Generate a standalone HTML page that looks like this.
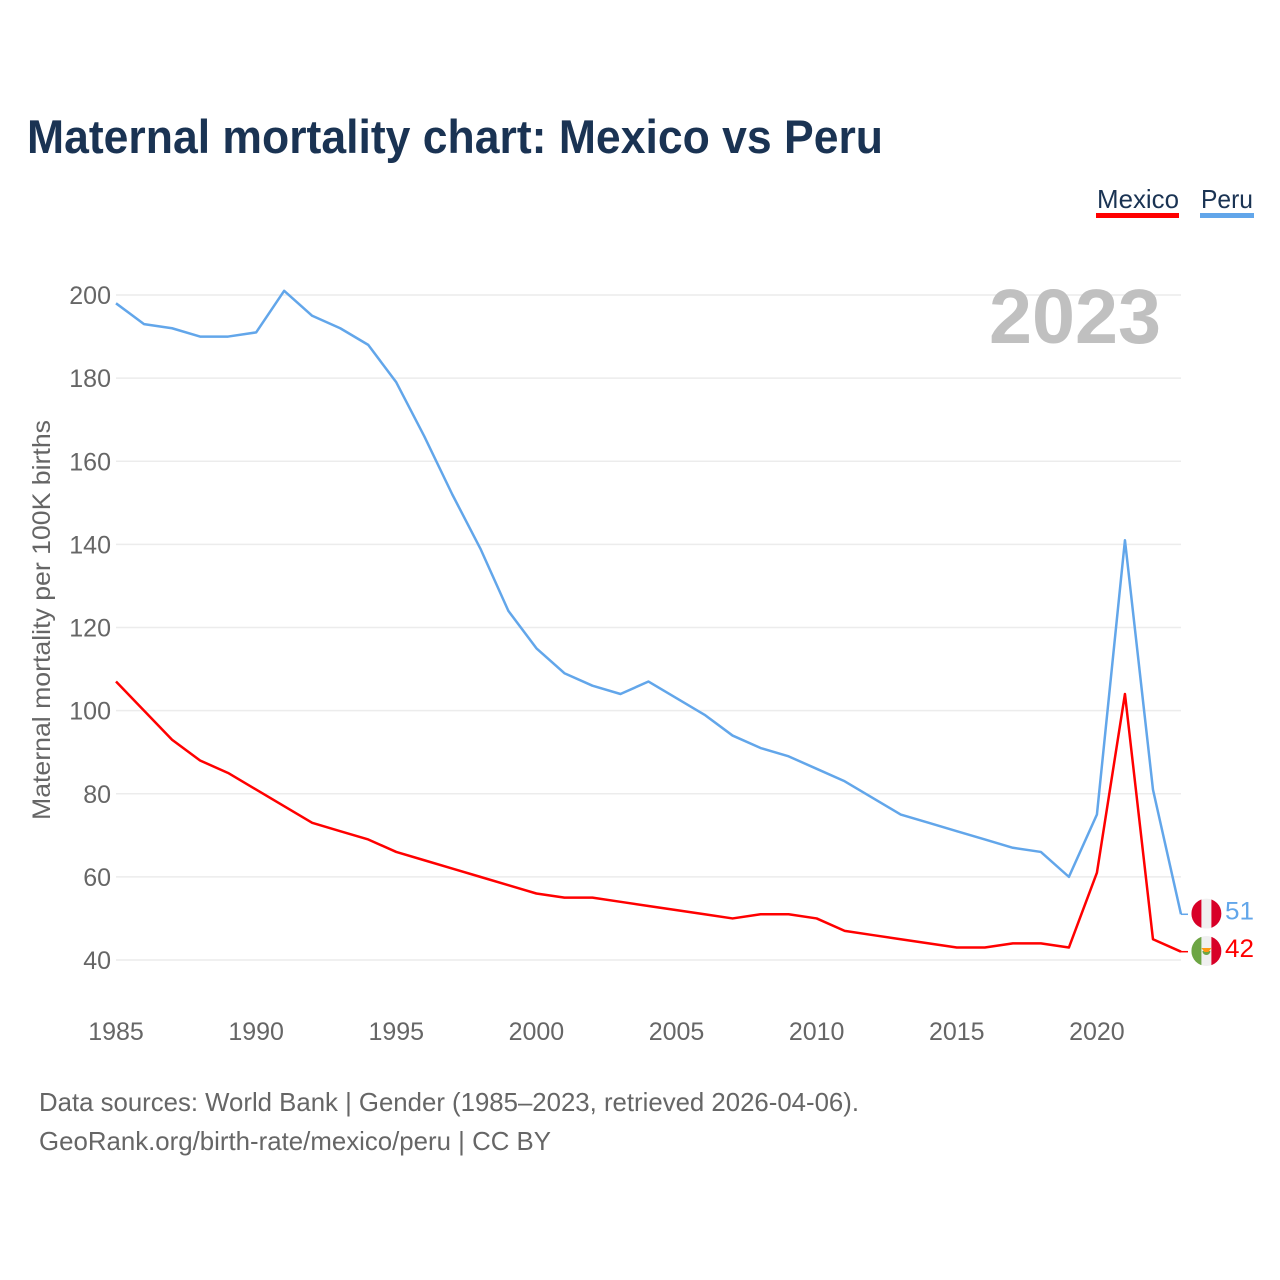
<!DOCTYPE html>
<html lang="en">
<head>
<meta charset="utf-8">
<title>Maternal mortality chart: Mexico vs Peru</title>
<style>
html,body{margin:0;padding:0;background:#fff;}
svg{display:block;font-family:"Liberation Sans",sans-serif;}
</style>
</head>
<body>
<svg id="chart" width="1280" height="1280" viewBox="0 0 1280 1280" xmlns="http://www.w3.org/2000/svg">
  <rect width="1280" height="1280" fill="#fff"/>
  <defs>
    <clipPath id="peru-clip"><circle cx="0" cy="0" r="15"/></clipPath>
    <clipPath id="mexico-clip"><circle cx="0" cy="0" r="15"/></clipPath>
  </defs>
  <text x="27" y="153" font-size="47" font-weight="700" fill="#1a3353" textLength="856" lengthAdjust="spacingAndGlyphs">Maternal mortality chart: Mexico vs Peru</text>

  <g id="grid"></g>
  <text x="989" y="343" font-size="77" font-weight="700" fill="#c0c0c0" textLength="172" lengthAdjust="spacingAndGlyphs">2023</text>
  <g id="yticks"></g>
  <g id="xticks"></g>
  <text transform="translate(50 620) rotate(-90)" text-anchor="middle" font-size="25" fill="#666" textLength="400" lengthAdjust="spacingAndGlyphs">Maternal mortality per 100K births</text>
  <g id="series"></g>

  <g id="flag-peru">
    <g clip-path="url(#peru-clip)">
      <rect x="-15" y="-15" width="30" height="30" fill="#f0f0f0"/>
      <rect x="-15" y="-15" width="10" height="30" fill="#d80027"/>
      <rect x="5" y="-15" width="10" height="30" fill="#d80027"/>
    </g>
  </g>
  <g id="flag-mexico">
    <g clip-path="url(#mexico-clip)">
      <rect x="-15" y="-15" width="30" height="30" fill="#f0f0f0"/>
      <rect x="-15" y="-15" width="10" height="30" fill="#6da544"/>
      <rect x="5" y="-15" width="10" height="30" fill="#d80027"/>
      <path d="M-4 -1 A4 4 0 0 0 4 -1 Z" transform="translate(0 1)" fill="#6da544"/>
      <path d="M-5 -3 L5 -3 L2 1 L-2 1 Z" fill="#ff9811"/>
    </g>
  </g>
  <text id="label-peru" x="1225" font-size="25" fill="#62a6ea" textLength="29" lengthAdjust="spacingAndGlyphs"></text>
  <text id="label-mexico" x="1225" font-size="25" fill="#ff0000" textLength="29" lengthAdjust="spacingAndGlyphs"></text>

  <g>
    <g>
      <text x="1097" y="208" font-size="26" fill="#1a3353" textLength="82" lengthAdjust="spacingAndGlyphs">Mexico</text>
      <rect x="1096" y="213" width="83" height="5" fill="#ff0000"/>
    </g>
    <g>
      <text x="1201" y="208" font-size="26" fill="#1a3353" textLength="52" lengthAdjust="spacingAndGlyphs">Peru</text>
      <rect x="1200" y="213" width="54" height="5" fill="#62a6ea"/>
    </g>
  </g>

  <text x="39" y="1111" font-size="26" fill="#666" textLength="820" lengthAdjust="spacingAndGlyphs">Data sources: World Bank | Gender (1985–2023, retrieved 2026-04-06).</text>
  <a>
    <text x="39" y="1150" font-size="26" fill="#666" textLength="512" lengthAdjust="spacingAndGlyphs">GeoRank.org/birth-rate/mexico/peru | CC BY</text>
  </a>
</svg>
<script>
const years = [1985,1986,1987,1988,1989,1990,1991,1992,1993,1994,1995,1996,1997,1998,1999,2000,2001,2002,2003,2004,2005,2006,2007,2008,2009,2010,2011,2012,2013,2014,2015,2016,2017,2018,2019,2020,2021,2022,2023];
const peruValues = [198,193,192,190,190,191,201,195,192,188,179,166,152,139,124,115,109,106,104,107,103,99,94,91,89,86,83,79,75,73,71,69,67,66,60,75,141,81,51];
const mexicoValues = [107,100,93,88,85,81,77,73,71,69,66,64,62,60,58,56,55,55,54,53,52,51,50,51,51,50,47,46,45,44,43,43,44,44,43,61,104,45,42];
const yTickValues = [40,60,80,100,120,140,160,180,200];
const xTickValues = [1985,1990,1995,2000,2005,2010,2015,2020];

const NS = 'http://www.w3.org/2000/svg';
const xLeft = 116, xRight = 1181, yBottom = 960, yTop = 295;
function xScale(year){ return xLeft + (year - 1985) * (xRight - xLeft) / (2023 - 1985); }
function yScale(value){ return yBottom - (value - 40) * (yBottom - yTop) / (200 - 40); }

const grid = document.getElementById('grid');
const yticks = document.getElementById('yticks');
const xticks = document.getElementById('xticks');
const seriesGroup = document.getElementById('series');

yTickValues.forEach(function(v){
  const line = document.createElementNS(NS, 'line');
  
  
  line.setAttribute('x1', xLeft);
  line.setAttribute('x2', xRight);
  line.setAttribute('y1', yScale(v));
  line.setAttribute('y2', yScale(v));
  line.setAttribute('stroke', '#ececec');
  line.setAttribute('stroke-width', '1.5');
  grid.appendChild(line);
  const t = document.createElementNS(NS, 'text');
  
  
  t.setAttribute('x', 111);
  t.setAttribute('y', yScale(v) + 9);
  t.setAttribute('text-anchor', 'end');
  t.setAttribute('font-size', '25');
  t.setAttribute('fill', '#666');
  t.textContent = String(v);
  yticks.appendChild(t);
});

xTickValues.forEach(function(v){
  const t = document.createElementNS(NS, 'text');
  
  
  t.setAttribute('x', xScale(v));
  t.setAttribute('y', 1040);
  t.setAttribute('text-anchor', 'middle');
  t.setAttribute('font-size', '25');
  t.setAttribute('fill', '#666');
  t.textContent = String(v);
  xticks.appendChild(t);
});

function drawSeries(values, color, name){
  const pts = values.map(function(v, i){ return xScale(years[i]) + ',' + yScale(v); });
  const last = values[values.length - 1];
  const line = document.createElementNS(NS, 'polyline');
  
  
  line.setAttribute('points', pts.join(' '));
  line.setAttribute('fill', 'none');
  line.setAttribute('stroke', color);
  line.setAttribute('stroke-width', '2.5');
  line.setAttribute('stroke-linejoin', 'round');
  seriesGroup.appendChild(line);
  const stub = document.createElementNS(NS, 'line');
  
  
  stub.setAttribute('x1', xScale(years[years.length - 1]));
  stub.setAttribute('x2', 1188);
  stub.setAttribute('y1', yScale(last));
  stub.setAttribute('y2', yScale(last));
  stub.setAttribute('stroke', color);
  stub.setAttribute('stroke-width', '1.5');
  seriesGroup.appendChild(stub);
}
drawSeries(peruValues, '#62a6ea', 'peru');
drawSeries(mexicoValues, '#ff0000', 'mexico');

function placeEnd(values, flagId, labelId){
  const last = values[values.length - 1];
  const y = yScale(last) - 0.7;
  document.getElementById(flagId).setAttribute('transform', 'translate(1206.4 ' + y + ')');
  const label = document.getElementById(labelId);
  label.setAttribute('y', y + 6);
  label.textContent = String(last);
}
placeEnd(peruValues, 'flag-peru', 'label-peru');
placeEnd(mexicoValues, 'flag-mexico', 'label-mexico');
</script>
</body>
</html>
